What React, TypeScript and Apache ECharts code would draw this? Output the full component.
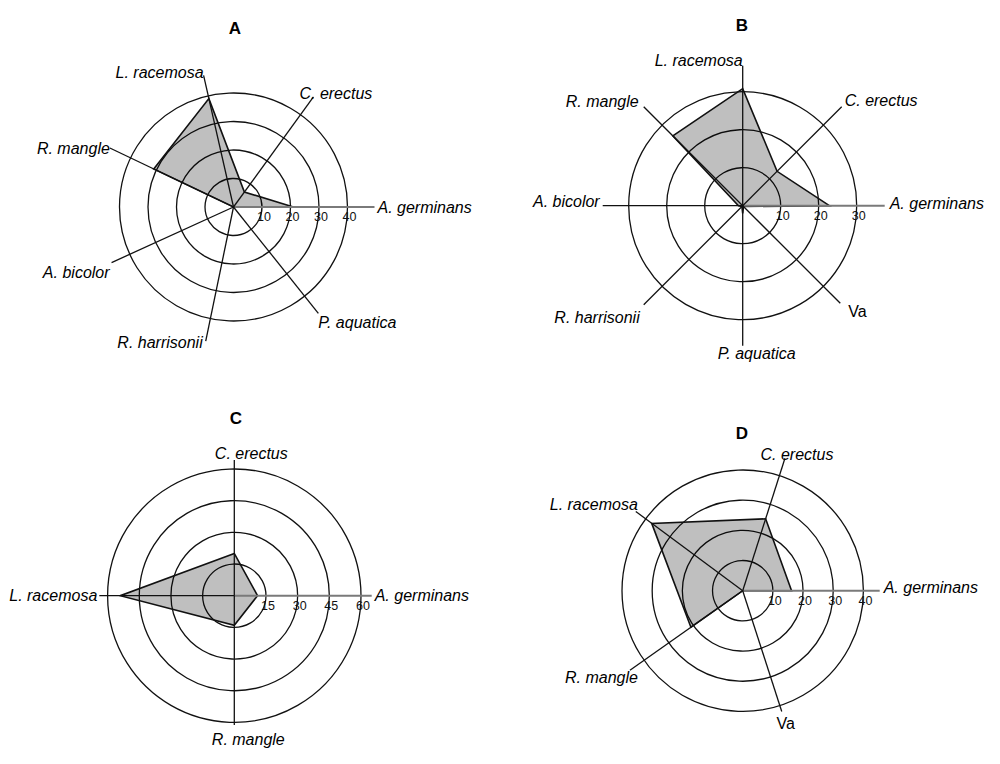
import React, { useEffect, useRef } from "react";
import * as echarts from "echarts";

// ---------- DATA ----------
const titles = ["A", "B", "C", "D"];

const axesA = ["A. germinans", "C. erectus", "L. racemosa", "R. mangle", "A. bicolor", "R. harrisonii", "P. aquatica"];
const anglesA = [0, 54, 102.8, 154.5, 204.5, 258.3, 308.6];
const valuesA = [21, 6.5, 39, 31, 0, 0, 0];
const ticksA = [10, 20, 30, 40];

const axesB = ["A. germinans", "C. erectus", "L. racemosa", "R. mangle", "A. bicolor", "R. harrisonii", "P. aquatica", "Va"];
const anglesB = [0, 45, 90, 135, 180, 225, 270, 315];
const valuesB = [22.8, 12.8, 30.8, 26, 1.1, 0.3, 2, 0.3];
const ticksB = [10, 20, 30];

const axesC = ["A. germinans", "C. erectus", "L. racemosa", "R. mangle"];
const anglesC = [0, 90, 180, 270];
const valuesC = [11, 20, 54, 14];
const ticksC = [15, 30, 45, 60];

const axesD = ["A. germinans", "C. erectus", "L. racemosa", "R. mangle", "Va"];
const anglesD = [0, 72.3, 143.5, 215.2, 287.9];
const valuesD = [16.2, 25, 37.5, 21, 0];
const ticksD = [10, 20, 30, 40];

// ---------- LAYOUT (positions / sizes / styles) ----------
type Lay = {
  cx: number; cy: number; r: number; titleX: number; titleY: number;
  spokePx: number[]; label: [number, number, string][];
};
const layouts: Lay[] = [
  {
    cx: 233.5, cy: 207, r: 114, titleX: 235, titleY: 28,
    spokePx: [141, 136, 135, 137, 134, 137, 136],
    label: [[3, 0, "left"], [-14, -3, "left"], [0, -3, "right"], [0, 0, "right"], [-2, 10, "right"], [-3, 1, "right"], [0, 9, "left"]],
  },
  {
    cx: 742.7, cy: 205.7, r: 114, titleX: 742, titleY: 25,
    spokePx: [142, 140, 140, 140, 140, 140, 140, 138],
    label: [[5, -2, "left"], [3, -6, "left"], [0, -5, "right"], [-5, -5, "right"], [-3, -4, "right"], [-4, 13, "right"], [14, 8, "center"], [8, 8, "left"]],
  },
  {
    cx: 234.3, cy: 595.7, r: 126.7, titleX: 236, titleY: 418,
    spokePx: [137.4, 135.7, 135, 129.3],
    label: [[3, 0, "left"], [17, -7, "center"], [-2, 0, "right"], [14, 14, "center"]],
  },
  {
    cx: 742.7, cy: 590.7, r: 120.7, titleX: 742, titleY: 433,
    spokePx: [137, 139, 133, 138, 127],
    label: [[4, -3, "left"], [12, -4, "center"], [2, -7, "right"], [8, 7, "right"], [4, 12, "center"]],
  },
];

const charts = [
  { axes: axesA, angles: anglesA, values: valuesA, ticks: ticksA },
  { axes: axesB, angles: anglesB, values: valuesB, ticks: ticksB },
  { axes: axesC, angles: anglesC, values: valuesC, ticks: ticksC },
  { axes: axesD, angles: anglesD, values: valuesD, ticks: ticksD },
];

const FONT = "'Liberation Sans', Arial, Helvetica, sans-serif";

function buildOption() {
  const polar: any[] = [];
  const angleAxis: any[] = [];
  const radiusAxis: any[] = [];
  const series: any[] = [];
  const graphic: any[] = [];

  charts.forEach((c, i) => {
    const L = layouts[i];
    const step = c.ticks[0];
    const max = c.ticks[c.ticks.length - 1];
    polar.push({ center: [L.cx, L.cy], radius: [0, L.r] });
    angleAxis.push({
      polarIndex: i, type: "value", min: 0, max: 360, startAngle: 0, clockwise: false,
      axisLine: { show: false }, axisTick: { show: false }, axisLabel: { show: false },
      splitLine: { show: false }, splitArea: { show: false },
    });
    radiusAxis.push({
      polarIndex: i, type: "value", min: 0, max: max, interval: step,
      axisLine: { show: false }, axisTick: { show: false },
      axisLabel: { show: false },
      splitLine: { show: true, lineStyle: { color: "#111", width: 1.3 } },
      splitArea: { show: false },
    });

    // filled polygon
    series.push({
      type: "custom",
      coordinateSystem: "polar",
      polarIndex: i,
      silent: true,
      z: 3,
      data: c.values.map((v, k) => [v, c.angles[k]]),
      renderItem: (params: any, api: any) => {
        if (params.dataIndex !== 0) return null;
        const pts = c.values.map((v, k) => api.coord([v, c.angles[k]]));
        return {
          type: "polygon",
          shape: { points: pts },
          style: { fill: "rgba(0,0,0,0.25)", stroke: "#111", lineWidth: 1.6, lineJoin: "miter" },
        };
      },
    });

    // spokes + axis labels
    const unit = max / L.r;
    series.push({
      type: "custom",
      coordinateSystem: "polar",
      polarIndex: i,
      silent: true,
      z: 4,
      data: c.axes.map((_, k) => [L.spokePx[k] * unit, c.angles[k]]),
      renderItem: (params: any, api: any) => {
        const k = params.dataIndex;
        const ang = api.value(1);
        const p0 = api.coord([0, ang]);
        const p1 = api.coord([api.value(0), ang]);
        const [dx, dy, al] = L.label[k];
        const horizontal = c.angles[k] === 0;
        const name = c.axes[k];
        return {
          type: "group",
          children: [
            {
              type: "line",
              shape: { x1: p0[0], y1: p0[1], x2: p1[0], y2: p1[1] },
              style: { stroke: horizontal ? "#7a7a7a" : "#111", lineWidth: horizontal ? 2 : 1.3 },
            },
            {
              type: "text",
              x: p1[0] + dx,
              y: p1[1] + dy,
              style: {
                text: name, fill: "#000", align: al, verticalAlign: "middle",
                fontSize: 16, fontStyle: name === "Va" ? "normal" : "italic", fontFamily: FONT,
              },
            },
          ],
        };
      },
    });

    // ring value labels along the 0° axis, below the line
    series.push({
      type: "custom",
      coordinateSystem: "polar",
      polarIndex: i,
      silent: true,
      z: 5,
      data: c.ticks.map((t) => [t, 0]),
      renderItem: (params: any, api: any) => {
        const p = api.coord([api.value(0), api.value(1)]);
        return {
          type: "text",
          x: p[0] + 2,
          y: p[1] + 10,
          style: {
            text: String(api.value(0)), fill: "#111", align: "center", verticalAlign: "middle",
            fontSize: 12.5, fontFamily: FONT,
          },
        };
      },
    });

    graphic.push({
      type: "text", x: L.titleX, y: L.titleY,
      style: { text: titles[i], fill: "#000", align: "center", verticalAlign: "middle", fontSize: 17, fontWeight: "bold", fontFamily: FONT },
    });
  });

  return {
    animation: false,
    backgroundColor: "#fff",
    polar, angleAxis, radiusAxis, series, graphic,
  };
}

export default function App() {
  const ref = useRef<HTMLDivElement>(null);
  useEffect(() => {
    document.body.style.margin = "0";
    if (!ref.current) return;
    const chart = echarts.init(ref.current, null, { renderer: "svg" });
    chart.setOption(buildOption() as any);
    return () => chart.dispose();
  }, []);
  return <div ref={ref} style={{ width: 1000, height: 764 }} />;
}
